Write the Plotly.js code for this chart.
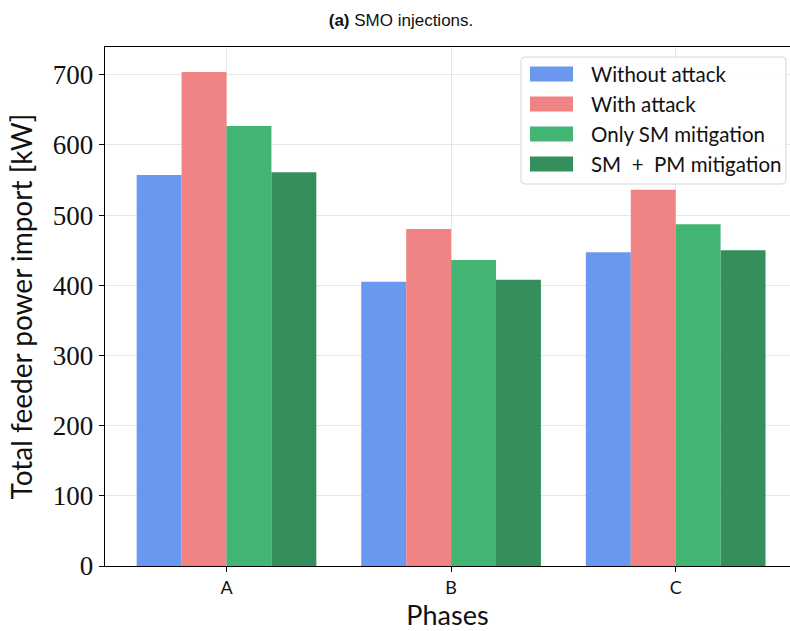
<!DOCTYPE html>
<html>
<head>
<meta charset="utf-8">
<script src="https://cdn.plot.ly/plotly-3.0.1.min.js"></script>
<style>
html,body{margin:0;padding:0;background:#fff;}
#chart{width:790px;height:631px;}
</style>
</head>
<body>
<div id="chart"></div>
<script>
// Data
const phases = ["A", "B", "C"];
const seriesNames = ["Without attack", "With attack", "Only SM mitigation", "SM + PM mitigation"];
const withoutAttack = [557, 405, 447];
const withAttack = [704, 480, 536];
const onlySM = [627, 436, 487];
const smPM = [561, 408, 450];
const seriesValues = [withoutAttack, withAttack, onlySM, smPM];
const seriesColors = ["#6495ED", "#F08080", "#3CB371", "#2E8B57"];
const yTicks = [0, 100, 200, 300, 400, 500, 600, 700];

const W = 790, H = 631;
const L = 105, R = 0, T = 47, B = 65;
const pw = W - L - R, ph = H - T - B;
const px = x => (x - L) / pw;
const py = y => (H - B - y) / ph;

const traces = seriesNames.map((name, i) => ({
  type: "bar",
  name: name,
  x: [0, 1, 2],
  y: seriesValues[i],
  marker: {color: seriesColors[i], opacity: 0.97, line: {width: 0}},
  hoverinfo: "y"
}));

// Custom legend (matplotlib-like)
const shapes = [];
const annotations = [];
const lx0 = 521, lx1 = 786, ly0 = 57, ly1 = 184, r = 4;
const X0 = px(lx0), X1 = px(lx1), Y0 = py(ly1), Y1 = py(ly0);
const rx = r / pw, ry = r / ph;
shapes.push({
  type: "path", xref: "paper", yref: "paper",
  path: `M ${X0 + rx},${Y0} L ${X1 - rx},${Y0} Q ${X1},${Y0} ${X1},${Y0 + ry} L ${X1},${Y1 - ry} Q ${X1},${Y1} ${X1 - rx},${Y1} L ${X0 + rx},${Y1} Q ${X0},${Y1} ${X0},${Y1 - ry} L ${X0},${Y0 + ry} Q ${X0},${Y0} ${X0 + rx},${Y0} Z`,
  fillcolor: "rgba(255,255,255,0.85)",
  line: {color: "#d6d6d6", width: 1},
  layer: "above"
});
seriesNames.forEach((name, i) => {
  const cy = 74 + 30 * i;
  shapes.push({
    type: "rect", xref: "paper", yref: "paper",
    x0: px(530), x1: px(573), y0: py(cy + 7.5), y1: py(cy - 7.5),
    fillcolor: seriesColors[i], opacity: 0.97, line: {width: 0}, layer: "above"
  });
  annotations.push({
    xref: "paper", yref: "paper", x: px(589), y: py(cy),
    xanchor: "left", yanchor: "middle", showarrow: false,
    text: name.replace(" + ", "  +  "),
    font: {family: "Lato, 'Open Sans', sans-serif", size: 20.5, color: "#111"}
  });
});

const layout = {
  width: W, height: H,
  margin: {l: L, r: R, t: T, b: B, pad: 0},
  paper_bgcolor: "#fff", plot_bgcolor: "#fff",
  showlegend: false,
  barmode: "group",
  bargap: 0.2,
  bargroupgap: 0,
  title: {
    text: "<b>(a)</b> SMO injections.",
    font: {family: "'Liberation Sans Narrow', 'Liberation Sans', Arial, sans-serif", size: 17, color: "#111"},
    xref: "container", yref: "container",
    x: 401 / W, y: 1 - 20 / H, xanchor: "center", yanchor: "middle"
  },
  xaxis: {
    range: [-0.541, 2.509],
    tickmode: "array", tickvals: [0, 1, 2], ticktext: phases,
    ticks: "outside", ticklen: 5, tickwidth: 1, tickcolor: "#000",
    showline: true, linecolor: "#000", linewidth: 1.3,
    showgrid: true, gridcolor: "#e6e6e6", gridwidth: 1,
    zeroline: false,
    tickfont: {family: "Lato, 'Open Sans', sans-serif", size: 18, color: "#111"},
    title: {text: "Phases", font: {family: "Lato, 'Open Sans', sans-serif", size: 27, color: "#111"}, standoff: 15},
    mirror: false, fixedrange: true
  },
  xaxis2: {
    overlaying: "x", side: "top", showline: true, linecolor: "#000", linewidth: 1.3,
    showticklabels: false, ticks: "", showgrid: false, zeroline: false, range: [-0.541, 2.509]
  },
  yaxis: {
    range: [0, 739.5],
    tickmode: "array", tickvals: yTicks, ticktext: yTicks.map(String),
    ticks: "outside", ticklen: 5, tickwidth: 1, tickcolor: "#000",
    showline: true, linecolor: "#000", linewidth: 1.3,
    showgrid: true, gridcolor: "#e6e6e6", gridwidth: 1,
    zeroline: false,
    tickfont: {family: "'Liberation Serif', 'DejaVu Serif', serif", size: 27, color: "#111"},
    title: {text: "Total feeder power import [kW]", font: {family: "Lato, 'Open Sans', sans-serif", size: 28, color: "#111"}, standoff: 12},
    fixedrange: true
  },
  shapes: shapes,
  annotations: annotations
};

// invisible trace so the top spine (xaxis2) is drawn
traces.push({type: "scatter", x: [0], y: [0], xaxis: "x2", mode: "markers", marker: {opacity: 0}, hoverinfo: "skip", showlegend: false});

Plotly.newPlot("chart", traces, layout, {displayModeBar: false, staticPlot: true});
</script>
</body>
</html>
